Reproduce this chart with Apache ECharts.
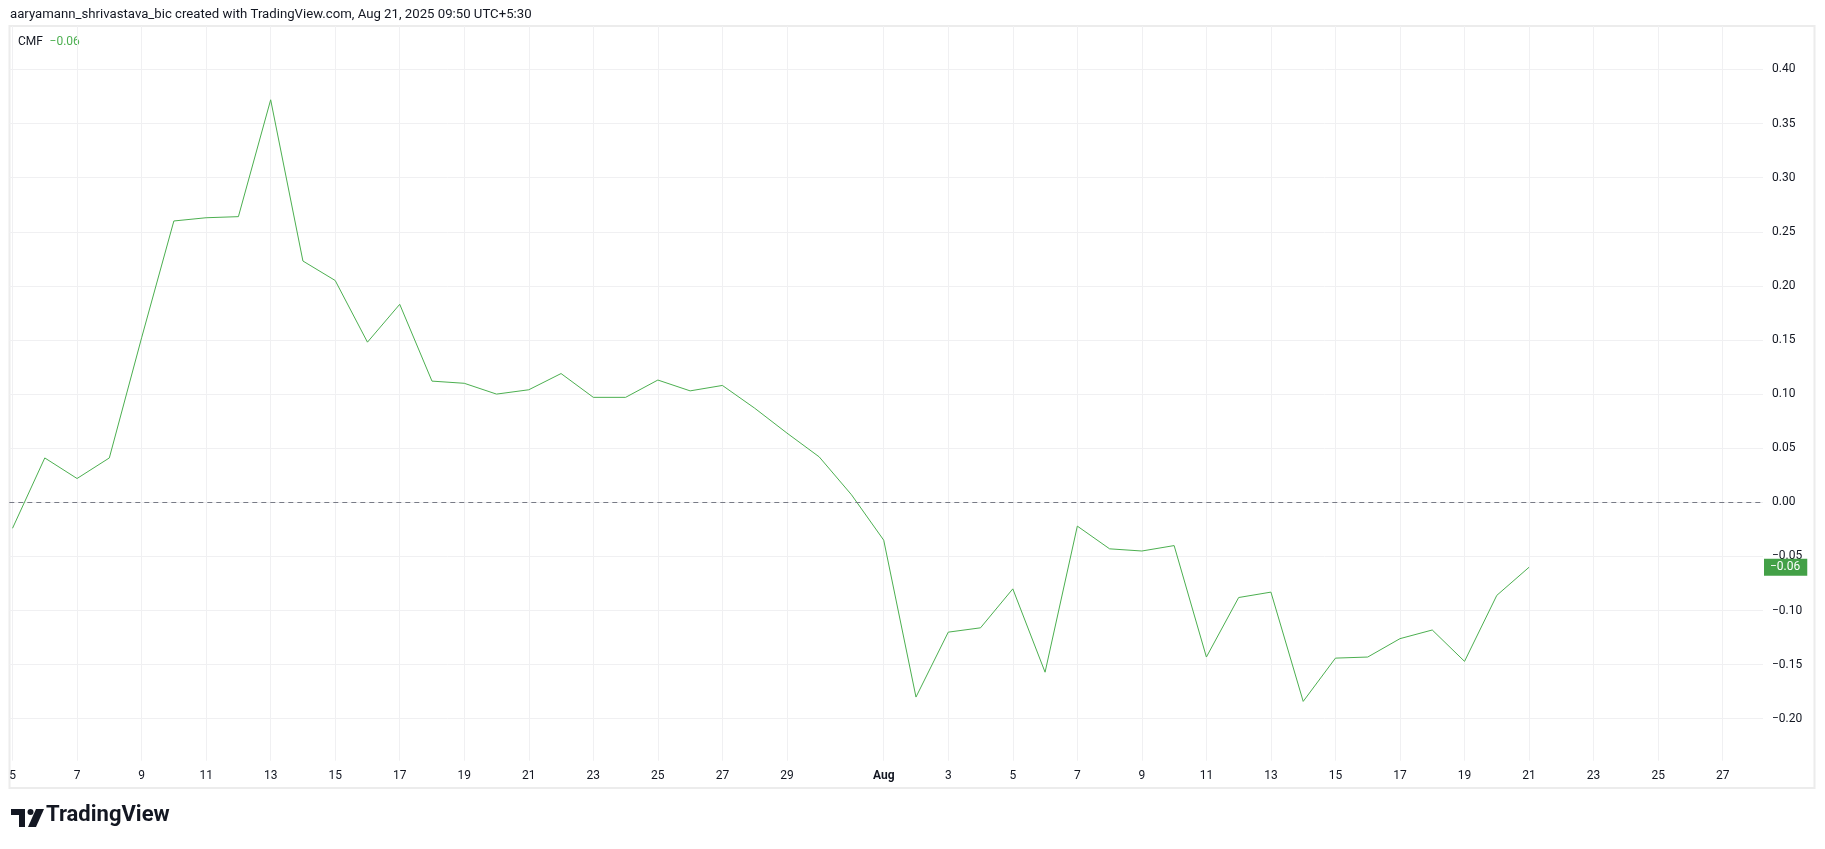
<!DOCTYPE html>
<html>
<head>
<meta charset="utf-8">
<script src="https://cdn.jsdelivr.net/npm/echarts@6/dist/echarts.min.js"></script>
<style>
  html, body { margin: 0; padding: 0; background: #ffffff; }
  #chart { width: 1825px; height: 849px; }
</style>
</head>
<body>
<div id="chart"></div>
<script>
// ---- data ----
const dates = [
  '2025-07-05','2025-07-06','2025-07-07','2025-07-08','2025-07-09','2025-07-10','2025-07-11','2025-07-12',
  '2025-07-13','2025-07-14','2025-07-15','2025-07-16','2025-07-17','2025-07-18','2025-07-19','2025-07-20',
  '2025-07-21','2025-07-22','2025-07-23','2025-07-24','2025-07-25','2025-07-26','2025-07-27','2025-07-28',
  '2025-07-29','2025-07-30','2025-07-31','2025-08-01','2025-08-02','2025-08-03','2025-08-04','2025-08-05',
  '2025-08-06','2025-08-07','2025-08-08','2025-08-09','2025-08-10','2025-08-11','2025-08-12','2025-08-13',
  '2025-08-14','2025-08-15','2025-08-16','2025-08-17','2025-08-18','2025-08-19','2025-08-20','2025-08-21'
];
const cmf = [
  -0.024, 0.041, 0.022, 0.041, 0.152, 0.260, 0.263, 0.264,
   0.372, 0.223, 0.205, 0.148, 0.183, 0.112, 0.110, 0.100,
   0.104, 0.119, 0.097, 0.097, 0.113, 0.103, 0.108, 0.087,
   0.064, 0.042, 0.007, -0.035, -0.180, -0.120, -0.116, -0.080,
  -0.157, -0.022, -0.043, -0.045, -0.040, -0.143, -0.088, -0.083,
  -0.184, -0.144, -0.143, -0.126, -0.118, -0.147, -0.086, -0.060
];
const tickDates = [
  '2025-07-05','2025-07-07','2025-07-09','2025-07-11','2025-07-13','2025-07-15','2025-07-17',
  '2025-07-19','2025-07-21','2025-07-23','2025-07-25','2025-07-27','2025-07-29',
  '2025-08-01','2025-08-03','2025-08-05','2025-08-07','2025-08-09','2025-08-11','2025-08-13',
  '2025-08-15','2025-08-17','2025-08-19','2025-08-21','2025-08-23','2025-08-25','2025-08-27'
];
const yTicks = [-0.20, -0.15, -0.10, -0.05, 0.00, 0.05, 0.10, 0.15, 0.20, 0.25, 0.30, 0.35, 0.40];
const monthNames = ['Jan','Feb','Mar','Apr','May','Jun','Jul','Aug','Sep','Oct','Nov','Dec'];
const titleText = 'aaryamann_shrivastava_bic created with TradingView.com, Aug 21, 2025 09:50 UTC+5:30';
const seriesName = 'CMF';

// ---- helpers ----
const DAY = 86400000;
const t0 = Date.parse(dates[0] + 'T00:00:00Z');
const dayIndex = d => Math.round((Date.parse(d + 'T00:00:00Z') - t0) / DAY);
const tickDays = tickDates.map(dayIndex);
const dayLabel = {};
tickDates.forEach(d => {
  const dt = new Date(d + 'T00:00:00Z');
  const day = dt.getUTCDate();
  dayLabel[dayIndex(d)] = day === 1 ? '{b|' + monthNames[dt.getUTCMonth()] + '}' : String(day);
});
const fmt = v => {
  const s = Math.abs(v).toFixed(2);
  return (v < -1e-9 ? '\u2212' : '') + s;
};
const lineData = dates.map((d, i) => [dayIndex(d), cmf[i]]);
const lastVal = cmf[cmf.length - 1];

const GREEN = '#4caf50';
const FONT = 'Roboto, "Liberation Sans", sans-serif';
const GRID = '#f0f0f2';

const chart = echarts.init(document.getElementById('chart'), null, { renderer: 'canvas' });
chart.setOption({
  animation: false,
  backgroundColor: '#ffffff',
  textStyle: { fontFamily: FONT },
  grid: {
    left: 9.3, right: 62, top: 26, bottom: 88.3,
    containLabel: false, outerBoundsMode: 'none'
  },
  xAxis: {
    type: 'value',
    min: -0.1, max: 54.25,
    axisLine: { show: false },
    axisTick: { show: false, customValues: tickDays },
    splitLine: { show: true, lineStyle: { color: GRID, width: 1 } },
    axisLabel: {
      customValues: tickDays,
      margin: 9,
      color: '#131722',
      fontSize: 12,
      fontFamily: FONT,
      formatter: v => dayLabel[Math.round(v)] || '',
      rich: { b: { fontWeight: 'bold', fontSize: 12, color: '#131722', fontFamily: FONT } }
    }
  },
  yAxis: [{
    type: 'value',
    position: 'right',
    offset: 0,
    min: -0.2388, max: 0.4402,
    axisLine: { show: false },
    axisTick: { show: false, customValues: yTicks },
    splitLine: { show: true, lineStyle: { color: GRID, width: 1 } },
    axisLabel: {
      customValues: yTicks,
      margin: 9,
      align: 'left',
      color: '#131722',
      fontSize: 12,
      fontFamily: FONT,
      formatter: v => fmt(v)
    }
  }, {
    type: 'value',
    position: 'right',
    offset: 0,
    min: -0.2388, max: 0.4402,
    axisLine: { show: false },
    axisTick: { show: false, customValues: [lastVal] },
    splitLine: { show: false },
    axisLabel: {
      customValues: [lastVal],
      margin: 1,
      align: 'left',
      color: '#ffffff',
      fontSize: 12,
      fontFamily: FONT,
      backgroundColor: '#43a047',
      padding: [2, 7, 2, 6],
      lineHeight: 13,
      formatter: v => fmt(v)
    }
  }],
  series: [{
    name: seriesName,
    type: 'line',
    data: lineData,
    showSymbol: false,
    symbol: 'none',
    lineStyle: { color: GREEN, width: 1 },
    z: 3,
    markLine: {
      silent: true,
      symbol: 'none',
      label: { show: false },
      lineStyle: { color: '#787b86', type: [5, 4], width: 1 },
      data: [{ yAxis: 0 }]
    }
  }],
  graphic: [
    {
      type: 'rect', silent: true, z: 0,
      shape: { x: 9.5, y: 26, width: 1805, height: 762 },
      style: { fill: 'none', stroke: '#ececec', lineWidth: 2 }
    },
    {
      type: 'text', left: 10, top: 8,
      style: { text: titleText, fill: '#131722', font: '13.2px ' + FONT }
    },
    {
      type: 'text', left: 18, top: 36,
      style: {
        text: '{n|' + seriesName + '}  {v|' + fmt(lastVal) + '}',
        rich: {
          n: { fill: '#131722', font: '12px ' + FONT },
          v: { fill: GREEN, font: '12px ' + FONT }
        }
      }
    },
    // TradingView logo
    {
      type: 'group', left: 11, top: 809,
      children: [
        { type: 'rect', shape: { x: 0, y: 0, width: 14, height: 6 }, style: { fill: '#131722' } },
        { type: 'rect', shape: { x: 8, y: 0, width: 6, height: 18 }, style: { fill: '#131722' } },
        { type: 'circle', shape: { cx: 19.5, cy: 3, r: 3 }, style: { fill: '#131722' } },
        { type: 'polygon', shape: { points: [[25, 0], [33, 0], [25, 18], [17, 18]] }, style: { fill: '#131722' } }
      ]
    },
    {
      type: 'text', left: 46, top: 804,
      style: { text: 'TradingView', fill: '#131722', font: 'bold 22px ' + FONT }
    }
  ]
});
</script>
</body>
</html>
